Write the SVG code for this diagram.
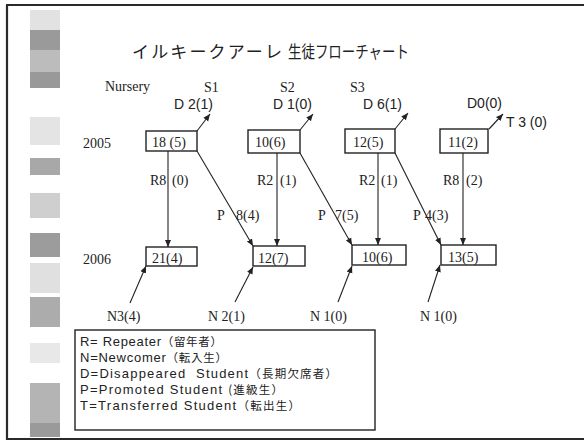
<svg xmlns="http://www.w3.org/2000/svg" width="584" height="442" viewBox="0 0 584 442">
<style>
.frame{stroke:#2a2a2a;stroke-width:2.2;fill:none}
.deco{stroke:none}
.box rect{fill:#fff;stroke:#222;stroke-width:1.4}
.ser{font-family:"Liberation Serif","DejaVu Serif",serif;font-size:14px;fill:#222}
.san{font-family:"Liberation Sans","Noto Sans CJK JP",sans-serif;font-size:14px;fill:#222}
.leg{font-family:"Liberation Sans","Noto Sans CJK JP",sans-serif;font-size:13px;fill:#222}
.cjk{font-family:"Noto Sans CJK JP",sans-serif;font-size:11.5px}
.ttl{font-family:"Noto Sans CJK JP","Noto Sans CJK SC",sans-serif;font-size:17px;fill:#222}
.con line{stroke:#222;stroke-width:1.1;marker-end:url(#ah)}
.legend rect{fill:#fff;stroke:#222;stroke-width:1.4}
</style>
<defs>
<marker id="ah" markerUnits="userSpaceOnUse" markerWidth="8" markerHeight="8" refX="7" refY="4" orient="auto">
<path d="M0,1 L7,4 L0,7 z" fill="#222"/>
</marker>
</defs>
<rect x="0" y="0" width="584" height="442" fill="#fff"/>
<g id="frame">
<line class="frame" x1="6" y1="5" x2="584" y2="5"/>
<line class="frame" x1="7" y1="5" x2="7" y2="440"/>
<line class="frame" x1="6" y1="439" x2="584" y2="439"/>
</g>
<g id="decoration" class="deco">
<rect x="30" y="10" width="30" height="20" fill="#e2e2e2"/>
<rect x="30" y="30" width="30" height="20" fill="#9a9a9a"/>
<rect x="30" y="50" width="30" height="22" fill="#bcbcbc"/>
<rect x="30" y="72" width="30" height="16" fill="#999"/>
<rect x="30" y="117" width="30" height="28" fill="#e4e4e4"/>
<rect x="30" y="158" width="30" height="17" fill="#a8a8a8"/>
<rect x="30" y="193" width="30" height="25" fill="#cfcfcf"/>
<rect x="30" y="233" width="30" height="24" fill="#9c9c9c"/>
<rect x="30" y="263" width="30" height="30" fill="#e0e0e0"/>
<rect x="30" y="297" width="30" height="30" fill="#acacac"/>
<rect x="30" y="343" width="30" height="20" fill="#e8e8e8"/>
<rect x="30" y="383" width="30" height="40" fill="#b4b4b4"/>
<rect x="30" y="423" width="30" height="14" fill="#9a9a9a"/>
</g>
<g id="title">
<text class="ttl" x="132" y="58" textLength="150" lengthAdjust="spacing">イルキークアーレ</text>
<text class="ttl" x="288" y="58" textLength="121" lengthAdjust="spacingAndGlyphs">生徒フローチャート</text>
</g>
<g id="headers" class="ser">
<text x="105" y="91">Nursery</text>
<text x="204" y="92">S1</text>
<text x="280" y="92">S2</text>
<text x="350" y="92">S3</text>
<text x="83" y="148">2005</text>
<text x="83" y="264">2006</text>
</g>
<g id="connectors" class="con">
<line x1="168" y1="151" x2="168" y2="247"/>
<line x1="277" y1="153" x2="277" y2="246"/>
<line x1="378" y1="153" x2="378" y2="245"/>
<line x1="463" y1="153" x2="463" y2="245"/>
<line x1="197" y1="151" x2="253" y2="246"/>
<line x1="300" y1="153" x2="352" y2="245"/>
<line x1="395" y1="153" x2="441" y2="245"/>
<line x1="197" y1="131" x2="210" y2="114"/>
<line x1="300" y1="130" x2="313" y2="114"/>
<line x1="395" y1="129" x2="408" y2="113"/>
<line x1="489" y1="129" x2="503" y2="114"/>
<line x1="130" y1="303" x2="146" y2="266"/>
<line x1="235" y1="302" x2="253" y2="267"/>
<line x1="338" y1="302" x2="352" y2="266"/>
<line x1="428" y1="302" x2="440" y2="265"/>
</g>
<g id="n2005_nursery" class="box"><rect x="146" y="131" width="51" height="20"/><text class="ser" x="152" y="147">18 (5)</text></g>
<g id="n2005_s1" class="box"><rect x="248" y="130" width="52" height="23"/><text class="ser" x="255" y="147">10(6)</text></g>
<g id="n2005_s2" class="box"><rect x="345" y="129" width="50" height="24"/><text class="ser" x="353" y="147">12(5)</text></g>
<g id="n2005_s3" class="box"><rect x="440" y="129" width="48" height="24"/><text class="ser" x="448" y="147">11(2)</text></g>
<g id="n2006_nursery" class="box"><rect x="146" y="247" width="51" height="19"/><text class="ser" x="152" y="263">21(4)</text></g>
<g id="n2006_s1" class="box"><rect x="253" y="246" width="52" height="20"/><text class="ser" x="258" y="263">12(7)</text></g>
<g id="n2006_s2" class="box"><rect x="352" y="245" width="54" height="20"/><text class="ser" x="362" y="262">10(6)</text></g>
<g id="n2006_s3" class="box"><rect x="441" y="245" width="55" height="20"/><text class="ser" x="448" y="262">13(5)</text></g>
<g id="labels">
<text class="ser" x="150" y="185">R8<tspan x="172">(0)</tspan></text>
<text class="ser" x="257" y="185">R2<tspan x="280">(1)</tspan></text>
<text class="ser" x="359" y="185">R2<tspan x="381">(1)</tspan></text>
<text class="ser" x="443" y="185">R8<tspan x="466">(2)</tspan></text>
<text class="ser" x="217" y="220">P<tspan x="236">8(4)</tspan></text>
<text class="ser" x="318" y="220">P<tspan x="335">7(5)</tspan></text>
<text class="ser" x="413" y="220">P<tspan x="425">4(3)</tspan></text>
<text class="san" x="174" y="109">D 2(1)</text>
<text class="san" x="273" y="109">D 1(0)</text>
<text class="san" x="363" y="109">D 6(1)</text>
<text class="san" x="467" y="108">D0(0)</text>
<text class="san" x="506" y="127">T 3 (0)</text>
<text class="ser" x="107" y="321">N3(4)</text>
<text class="ser" x="208" y="321">N 2(1)</text>
<text class="ser" x="310" y="321">N 1(0)</text>
<text class="ser" x="420" y="321">N 1(0)</text>
</g>
<g id="legend" class="legend">
<rect x="75" y="330" width="300" height="100"/>
<text class="leg" x="80" y="346" textLength="142" lengthAdjust="spacing">R= Repeater<tspan class="cjk">（留年者）</tspan></text>
<text class="leg" x="80" y="362" textLength="147" lengthAdjust="spacing">N=Newcomer<tspan class="cjk">（転入生）</tspan></text>
<text class="leg" x="80" y="378" textLength="257" lengthAdjust="spacing" xml:space="preserve">D=Disappeared  Student<tspan class="cjk">（長期欠席者）</tspan></text>
<text class="leg" x="80" y="394" textLength="203" lengthAdjust="spacing">P=Promoted Student <tspan class="cjk">(進級生）</tspan></text>
<text class="leg" x="80" y="410" textLength="220" lengthAdjust="spacing">T=Transferred Student<tspan class="cjk">（転出生）</tspan></text>
</g>
</svg>
